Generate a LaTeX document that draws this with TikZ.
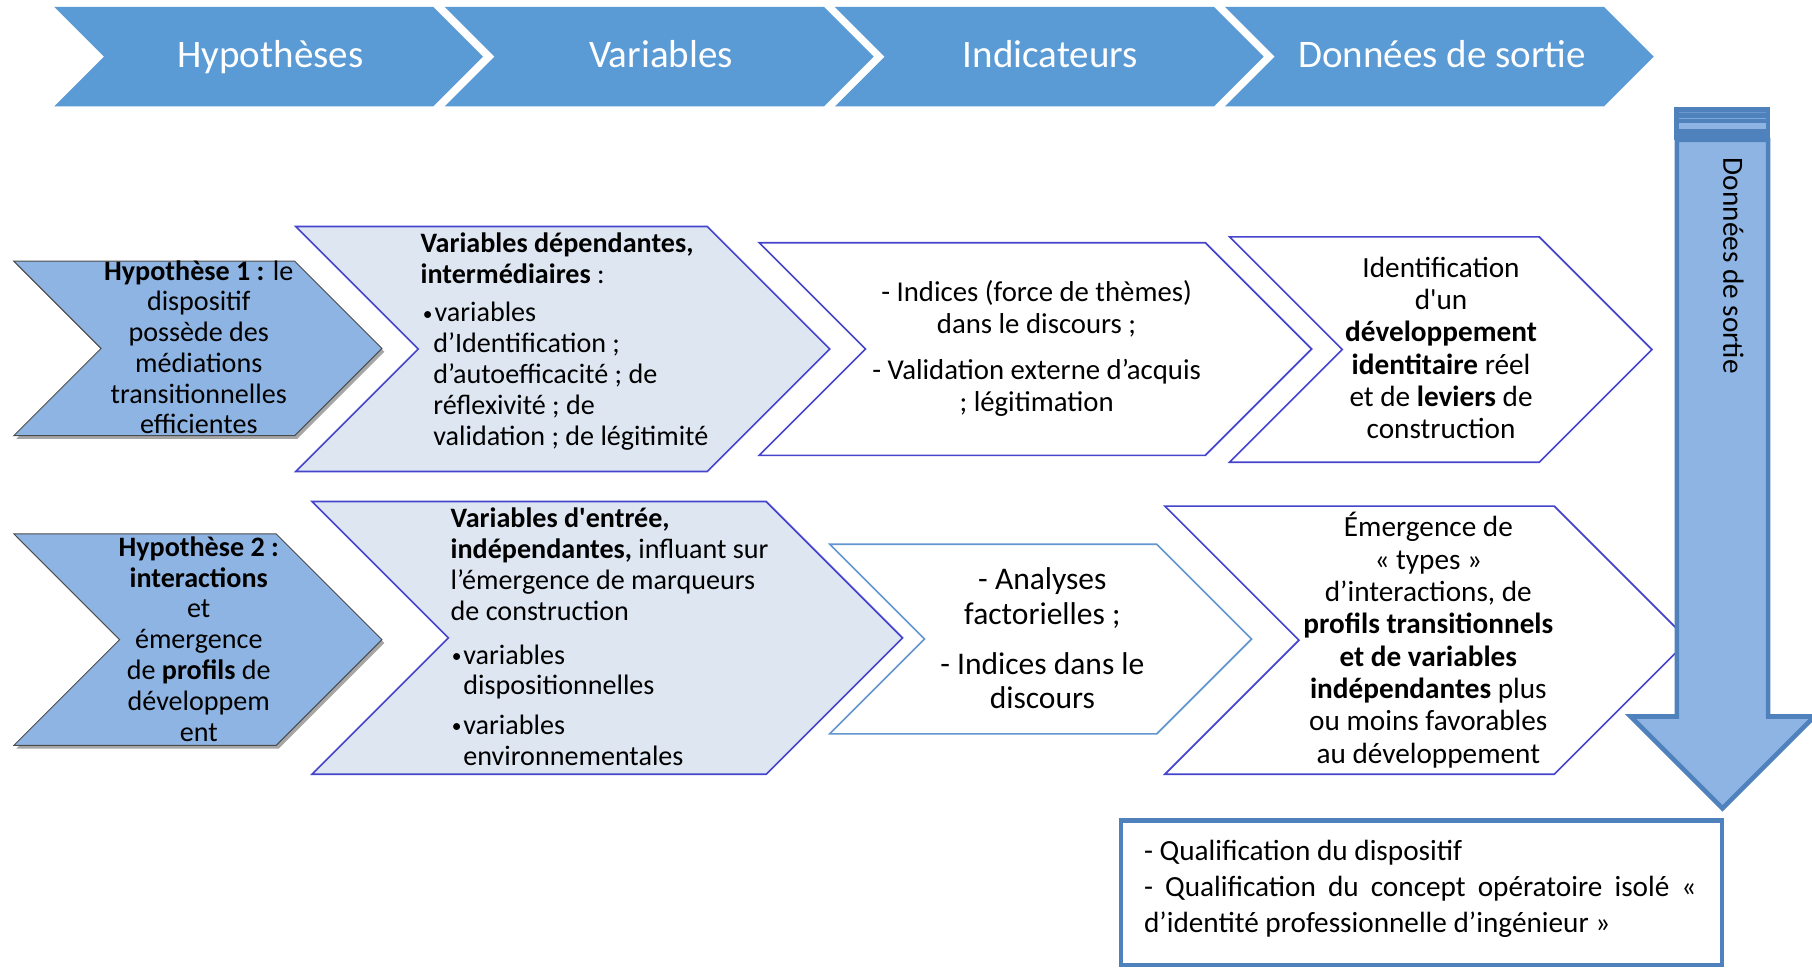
\documentclass[tikz,border=0pt]{standalone}
\usepackage{fontspec}
\setmainfont{Carlito}
\usetikzlibrary{shadows}
\definecolor{hdr}{RGB}{91,155,213}
\definecolor{hyp}{RGB}{141,180,226}
\definecolor{varfill}{RGB}{222,230,242}
\definecolor{vio}{RGB}{68,68,204}
\definecolor{steel}{RGB}{98,150,206}
\definecolor{arrowln}{RGB}{79,129,189}
\definecolor{arrowfill}{RGB}{142,180,227}
\newcommand{\setfs}[2]{\fontsize{#1}{#2}\selectfont}
\newcommand{\bul}{\makebox[0.25cm][l]{\fontsize{12}{12}\selectfont\raisebox{0.15ex}{•}}}
% #1 style, #2 x left, #3 y top, #4 y bottom, #5 x right (end of straight top edge)
\newcommand{\chevshape}[5]{%
  \pgfmathsetmacro{\hh}{(#4-#3)/2}%
  \pgfmathsetmacro{\ym}{(#4+#3)/2}%
  \pgfmathsetmacro{\xn}{#2+\hh}%
  \pgfmathsetmacro{\xt}{#5+\hh}%
  \path[#1] (#2,#3) -- (#5,#3) -- (\xt,\ym) -- (#5,#4) -- (#2,#4) -- (\xn,\ym) -- cycle;}
\tikzset{
  hdrshape/.style={fill=hdr},
  hypshape/.style={fill=hyp, draw=black!70, line width=0.6pt,
    drop shadow={shadow xshift=1.5pt, shadow yshift=-2pt, opacity=0.35, fill=black}},
  varshape/.style={fill=varfill, draw=vio, line width=1pt},
  indshape/.style={fill=white, draw=vio, line width=1pt},
  anashape/.style={fill=white, draw=steel, line width=1pt},
  txt/.style={inner sep=0pt, outer sep=0pt, align=center, text=black},
  hdrtxt/.style={inner sep=0pt, outer sep=0pt, text=white, anchor=base, font=\setfs{24}{28}},
}
\begin{document}
\begin{tikzpicture}[x=0.025cm, y=-0.025cm, line join=miter]
\useasboundingbox (0,0) rectangle (1568,838);
\clip (0,0) rectangle (1568,838);
\fill[white] (0,0) rectangle (1568,838);

% header chevrons
\chevshape{hdrshape}{47}{6}{92}{375}
\chevshape{hdrshape}{385}{6}{92}{713}
\chevshape{hdrshape}{722.5}{6}{92}{1050.5}
\chevshape{hdrshape}{1060}{6}{92}{1388}
\node[hdrtxt] (th1) at (234,58) {Hypothèses};
\node[hdrtxt] (th2) at (572,58) {Variables};
\node[hdrtxt] (th3) at (909,58) {Indicateurs};
\node[hdrtxt] (th4) at (1248,58) {Données de sortie};

% row 1
\chevshape{hypshape}{12}{226}{377}{255}
\chevshape{varshape}{256}{196}{408}{612}
\chevshape{indshape}{657}{210}{394}{1043}
\chevshape{indshape}{1064}{205}{400}{1332}

\node[txt, font=\setfs{17.3}{18.9}] (hy1) at (172,300.5)
  {\textbf{Hypothèse 1 :} le\\dispositif\\possède des\\médiations\\transitionnelles\\efficientes};
\node[txt, anchor=west, align=left, font=\setfs{17.3}{19}] (vd) at (364,223.5)
  {\textbf{Variables dépendantes,}\\\textbf{intermédiaires} :};
\node[txt, anchor=west, align=left, font=\setfs{17.3}{19}] (vdl) at (366,325.5)
  {\bul variables\\\hspace*{0.225cm}d’Identification ;\\\hspace*{0.225cm}d’autoefficacité ; de\\\hspace*{0.225cm}réflexivité ; de\\\hspace*{0.225cm}validation ; de légitimité};
\node[txt, font=\setfs{17.7}{20}] (ind1) at (897,301.5)
  {- Indices (force de thèmes)\\dans le discours ;\\[7.8pt]- Validation externe d’acquis\\; légitimation};
\node[txt, font=\setfs{18}{19.9}] (out1) at (1247,301)
  {Identification\\d\textquotesingle un\\\textbf{développement}\\\textbf{identitaire} réel\\et de \textbf{leviers} de\\construction};

% row 2
\chevshape{hypshape}{12}{462}{645}{239}
\chevshape{varshape}{270}{434}{670}{663}
\chevshape{anashape}{718}{471}{635}{1001}
\chevshape{indshape}{1008}{438}{670}{1345}

\node[txt, font=\setfs{17.3}{19}] (hy2) at (172,553)
  {\textbf{Hypothèse 2 :}\\\textbf{interactions}\\et\\émergence\\de \textbf{profils} de\\développem\\ent};
\node[txt, anchor=west, align=left, font=\setfs{17.3}{19}] (ve) at (390,488)
  {\textbf{Variables d\textquotesingle entrée,}\\\textbf{indépendantes,} influant sur\\l’émergence de marqueurs\\de construction};
\node[txt, anchor=west, align=left, font=\setfs{17.3}{19}] (vel) at (391,610)
  {\bul variables\\\hspace*{0.25cm}dispositionnelles\\[5.2pt]\bul variables\\\hspace*{0.25cm}environnementales};
\node[txt, font=\setfs{19.4}{21.3}] (ind2) at (902,552.5)
  {- Analyses\\factorielles ;\\[9.2pt]- Indices dans le\\discours};
\node[txt, font=\setfs{18}{19.9}] (out2) at (1236,554)
  {Émergence de\\« types »\\d’interactions, de\\\textbf{profils transitionnels}\\\textbf{et de variables}\\\textbf{indépendantes} plus\\ou moins favorables\\au développement};

% big striped down arrow
\fill[arrowln] (1449,92.5) rectangle (1532,121);
\fill[arrowfill!45!arrowln] (1453,96.6) rectangle (1528,97.6);
\fill[arrowfill!75!arrowln] (1453,101.8) rectangle (1528,103);
\fill[arrowfill] (1453,106.5) rectangle (1528,112);
\draw[arrowln, fill=arrowfill, line width=2.8pt]
  (1451,121) -- (1530,121) -- (1530,620) -- (1570,620) -- (1490.5,699.5)
  -- (1411,620) -- (1451,620) -- cycle;
\node[txt, rotate=-90, font=\setfs{18}{20}] (ds) at (1500,230) {Données de sortie};

% bottom box
\draw[arrowln, fill=white, line width=2.8pt] (970,710) rectangle (1490,835);
\node[txt, anchor=west, align=left, font=\setfs{18}{22}] (res) at (990,769)
  {- Qualification du dispositif\\\makebox[11.95cm][s]{- Qualification du concept opératoire isolé «}\\d’identité professionnelle d’ingénieur »};
\end{tikzpicture}
\end{document}
